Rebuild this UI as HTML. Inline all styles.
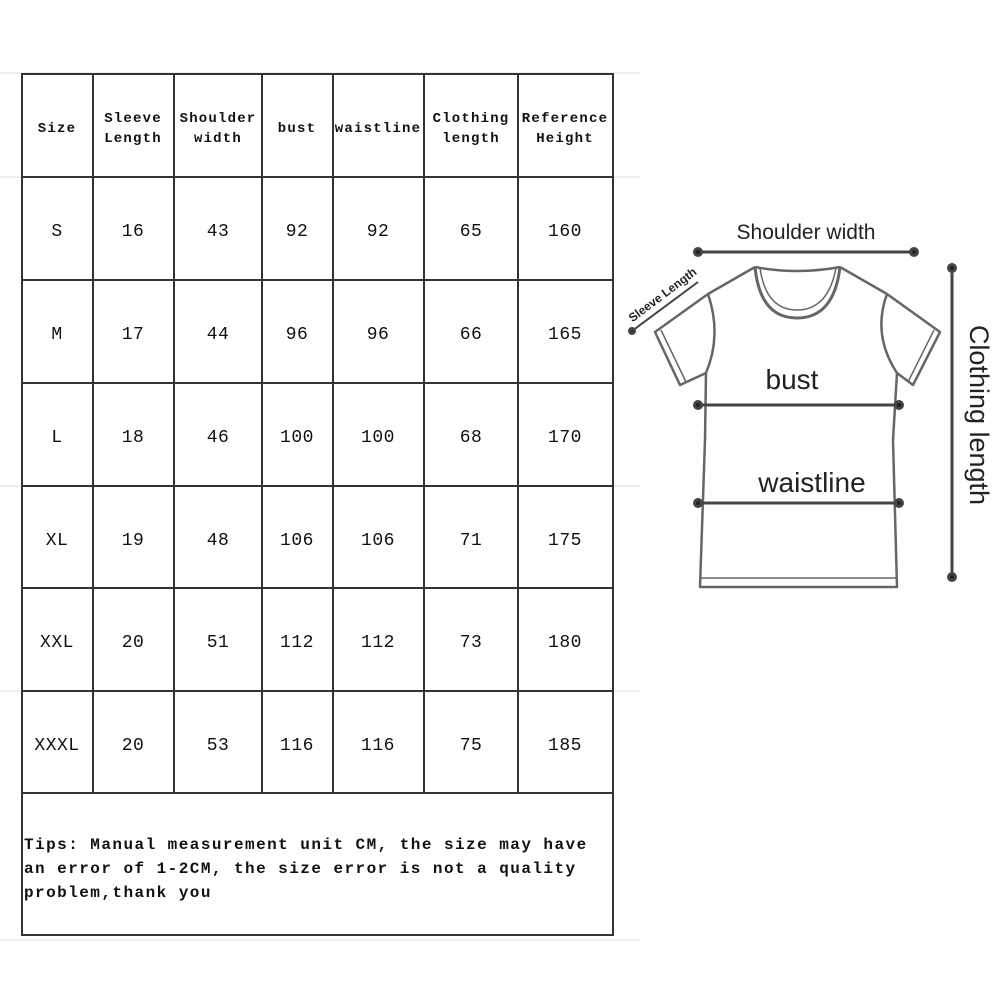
<!DOCTYPE html>
<html><head><meta charset="utf-8"><style>
html,body{margin:0;padding:0;background:#fff;}
svg{display:block}
.h{font-family:"Liberation Mono",monospace;font-weight:bold;font-size:14px;letter-spacing:1.2px;fill:#111}
.n{font-family:"Liberation Mono",monospace;font-size:18px;fill:#111;letter-spacing:0.5px}
.t{font-family:"Liberation Mono",monospace;font-weight:bold;font-size:16px;letter-spacing:1.45px;fill:#111}
.s{font-family:"Liberation Sans",sans-serif;fill:#222}
</style></head><body>
<svg width="1000" height="1000" viewBox="0 0 1000 1000">
<g stroke="#ddd" stroke-width="1">
<line x1="0" y1="73" x2="640" y2="73"/><line x1="0" y1="940" x2="640" y2="940"/>
<line x1="0" y1="177" x2="22" y2="177"/><line x1="613" y1="177" x2="640" y2="177"/>
<line x1="0" y1="486" x2="22" y2="486"/><line x1="613" y1="486" x2="640" y2="486"/>
<line x1="0" y1="691" x2="22" y2="691"/><line x1="613" y1="691" x2="640" y2="691"/>
</g>
<g stroke="#333" stroke-width="2" fill="none">
<rect x="22" y="74" width="591" height="861"/>
<line x1="93" y1="74" x2="93" y2="793"/>
<line x1="174" y1="74" x2="174" y2="793"/>
<line x1="262" y1="74" x2="262" y2="793"/>
<line x1="333" y1="74" x2="333" y2="793"/>
<line x1="424" y1="74" x2="424" y2="793"/>
<line x1="518" y1="74" x2="518" y2="793"/>
<line x1="22" y1="177" x2="613" y2="177"/>
<line x1="22" y1="280" x2="613" y2="280"/>
<line x1="22" y1="383" x2="613" y2="383"/>
<line x1="22" y1="486" x2="613" y2="486"/>
<line x1="22" y1="588" x2="613" y2="588"/>
<line x1="22" y1="691" x2="613" y2="691"/>
<line x1="22" y1="793" x2="613" y2="793"/>
</g>
<g class="h" text-anchor="middle">
<text x="57" y="132">Size</text>
<text x="133" y="122">Sleeve</text><text x="133" y="142">Length</text>
<text x="218" y="122">Shoulder</text><text x="218" y="142">width</text>
<text x="297" y="132">bust</text>
<text x="378" y="132">waistline</text>
<text x="471" y="122">Clothing</text><text x="471" y="142">length</text>
<text x="565" y="122">Reference</text><text x="565" y="142">Height</text>
</g>
<g class="n" text-anchor="middle">
<text x="57" y="236">S</text><text x="133" y="236">16</text><text x="218" y="236">43</text><text x="297" y="236">92</text><text x="378" y="236">92</text><text x="471" y="236">65</text><text x="565" y="236">160</text>
<text x="57" y="339">M</text><text x="133" y="339">17</text><text x="218" y="339">44</text><text x="297" y="339">96</text><text x="378" y="339">96</text><text x="471" y="339">66</text><text x="565" y="339">165</text>
<text x="57" y="442">L</text><text x="133" y="442">18</text><text x="218" y="442">46</text><text x="297" y="442">100</text><text x="378" y="442">100</text><text x="471" y="442">68</text><text x="565" y="442">170</text>
<text x="57" y="545">XL</text><text x="133" y="545">19</text><text x="218" y="545">48</text><text x="297" y="545">106</text><text x="378" y="545">106</text><text x="471" y="545">71</text><text x="565" y="545">175</text>
<text x="57" y="647">XXL</text><text x="133" y="647">20</text><text x="218" y="647">51</text><text x="297" y="647">112</text><text x="378" y="647">112</text><text x="471" y="647">73</text><text x="565" y="647">180</text>
<text x="57" y="750">XXXL</text><text x="133" y="750">20</text><text x="218" y="750">53</text><text x="297" y="750">116</text><text x="378" y="750">116</text><text x="471" y="750">75</text><text x="565" y="750">185</text>
</g>
<g class="t">
<text x="24" y="849">Tips: Manual measurement unit CM, the size may have</text>
<text x="24" y="873">an error of 1-2CM, the size error is not a quality</text>
<text x="24" y="897">problem,thank you</text>
</g>
<!-- T-shirt -->
<g stroke="#666" stroke-width="2.5" fill="none" stroke-linejoin="round">
<path d="M755,267 L708,294 L655,332 L680,385 L706,373 L705,440 L700,587 L897,587 L893,440 L897,373 L913,385 L940,332 L887,294 L840,267"/>
<path d="M755,267 Q797,275 840,267"/>
<path d="M755,267 Q760,318 797,318 Q834,318 840,267" stroke-width="3"/>
<path d="M760,268 Q766,310 797,310 Q828,310 836,268" stroke-width="1.5"/>
<path d="M708,294 Q722,335 706,373"/>
<path d="M887,294 Q872,335 897,373"/>
<path d="M661,330 L686,382" stroke-width="1.5"/>
<path d="M934,330 L908,382" stroke-width="1.5"/>
<line x1="700" y1="578" x2="897" y2="578" stroke-width="1.5"/>
</g>
<g stroke="#444" stroke-width="3" fill="#222">
<line x1="698" y1="252" x2="914" y2="252"/><circle cx="698" cy="252" r="3.5"/><circle cx="914" cy="252" r="3.5"/>
<line x1="698" y1="405" x2="899" y2="405"/><circle cx="698" cy="405" r="3.5"/><circle cx="899" cy="405" r="3.5"/>
<line x1="698" y1="503" x2="899" y2="503"/><circle cx="698" cy="503" r="3.5"/><circle cx="899" cy="503" r="3.5"/>
<line x1="952" y1="268" x2="952" y2="577"/><circle cx="952" cy="268" r="3.5"/><circle cx="952" cy="577" r="3.5"/>
<line x1="632" y1="331" x2="698" y2="282" stroke-width="2"/><circle cx="632" cy="331" r="2.5"/>
</g>
<text class="s" x="806" y="239" font-size="21" text-anchor="middle">Shoulder width</text>
<text class="s" x="792" y="389" font-size="28" text-anchor="middle">bust</text>
<text class="s" x="812" y="492" font-size="28" text-anchor="middle">waistline</text>
<text class="s" font-size="27" text-anchor="middle" transform="translate(970,415) rotate(90)">Clothing length</text>
<text class="s" font-size="12" font-weight="bold" text-anchor="middle" transform="translate(665,298) rotate(-37)">Sleeve Length</text>
</svg>
</body></html>
